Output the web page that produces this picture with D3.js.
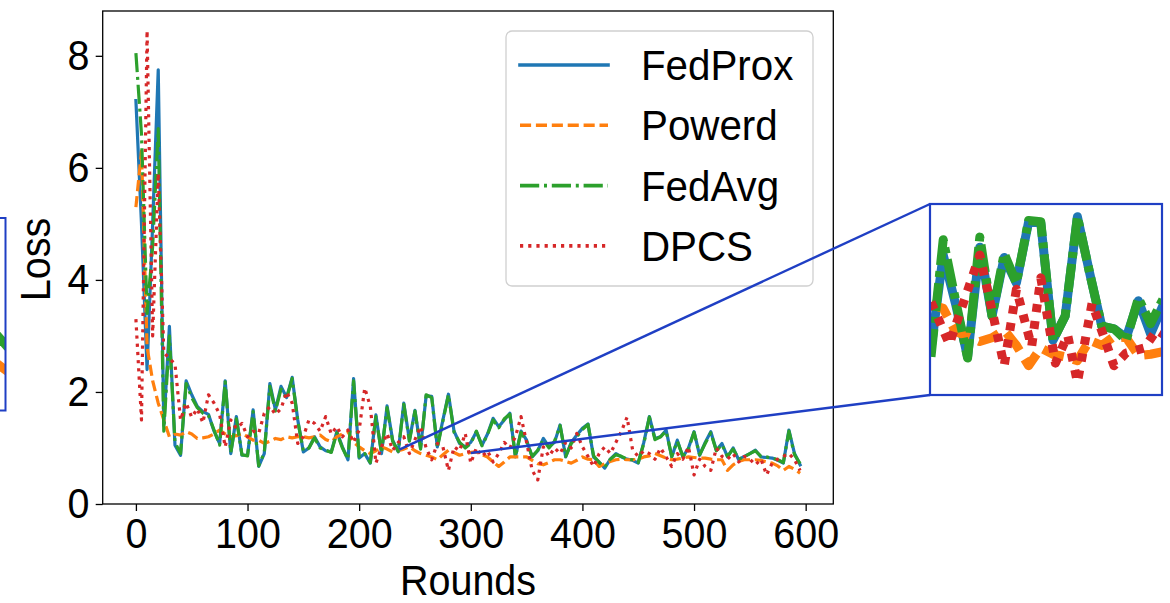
<!DOCTYPE html>
<html>
<head>
<meta charset="utf-8">
<script src="https://cdn.jsdelivr.net/npm/d3@7"></script>
<style>
  html, body { margin: 0; padding: 0; background: #fff; }
  svg { display: block; }
  text { font-family: "Liberation Sans", Arial, sans-serif; fill: #000; }
</style>
</head>
<body>
<svg id="chart" width="1170" height="603"></svg>
<script>
// ── data: loss every 5 rounds (0 … 595) ──
const roundStep = 5;
const seriesNames = ['FedProx', 'Powerd', 'FedAvg', 'DPCS'];

const fedProx = [
  7.2,5.0,2.4,5.0,7.75,1.4,3.17,1.05,0.87,2.2,
  1.95,1.74,1.65,1.6,1.3,1.08,2.2,0.9,1.56,0.87,
  0.87,1.68,0.67,0.9,2.15,1.68,2.1,1.9,2.26,1.5,
  0.93,1.0,1.2,1.02,0.95,0.93,1.29,1.02,0.79,2.24,
  0.82,0.9,0.73,1.59,0.9,1.75,1.14,0.93,1.8,1.14,
  1.67,1.0,1.93,1.92,1.02,1.5,1.96,1.3,1.08,1.02,
  1.1,1.29,1.05,1.25,1.53,1.38,1.5,1.62,0.84,1.3,
  1.14,0.84,0.95,1.17,1.02,1.1,1.41,0.84,1.1,1.23,
  1.35,1.43,0.84,0.75,0.64,0.8,0.9,0.84,0.8,0.78,
  0.73,1.1,1.56,1.17,1.2,1.32,0.84,1.14,0.84,1.0,
  1.29,0.87,1.1,1.29,0.96,1.08,0.84,1.0,0.79,0.85,
  0.9,0.96,0.84,0.83,0.82,0.78,0.73,1.32,0.9,0.7
];
const powerd = [
  5.3,6.3,2.8,2.2,1.8,1.5,1.2,1.25,1.23,1.29,
  1.25,1.17,1.18,1.2,1.25,1.32,1.25,1.2,1.22,1.26,
  1.2,1.14,1.14,1.08,1.12,1.17,1.15,1.2,1.18,1.2,
  1.2,1.18,1.2,1.23,1.15,1.11,1.2,1.25,1.29,1.1,
  1.02,0.95,0.9,0.95,1.02,0.98,0.93,0.95,0.98,1.02,
  0.95,0.9,0.87,0.84,0.79,0.88,0.96,0.92,0.87,0.9,
  0.92,0.93,0.88,0.84,0.75,0.67,0.75,0.84,0.84,0.84,
  0.84,0.78,0.72,0.7,0.74,0.79,0.79,0.76,0.73,0.78,
  0.84,0.8,0.79,0.67,0.72,0.76,0.79,0.8,0.79,0.79,
  0.8,0.84,0.86,0.9,0.86,0.82,0.79,0.8,0.82,0.84,
  0.83,0.82,0.82,0.8,0.79,0.79,0.6,0.7,0.76,0.79,
  0.79,0.79,0.78,0.75,0.73,0.68,0.6,0.67,0.62,0.55
];
const fedAvg = [
  8.05,6.6,3.4,4.6,6.7,1.3,3.0,1.1,0.9,2.15,
  1.9,1.72,1.62,1.58,1.32,1.05,2.18,0.92,1.52,0.88,
  0.86,1.65,0.68,0.92,2.1,1.66,2.05,1.88,2.24,1.48,
  0.95,1.0,1.18,1.0,0.96,0.92,1.27,1.0,0.8,2.2,
  0.84,0.9,0.74,1.56,0.92,1.72,1.12,0.94,1.78,1.12,
  1.66,0.98,1.95,1.9,1.0,1.48,1.95,1.28,1.1,1.0,
  1.08,1.3,1.04,1.24,1.5,1.36,1.52,1.6,0.85,1.28,
  1.12,0.85,0.96,1.15,1.0,1.12,1.4,0.85,1.08,1.2,
  1.33,1.42,0.86,0.74,0.66,0.8,0.88,0.85,0.8,0.79,
  0.74,1.08,1.55,1.15,1.2,1.3,0.85,1.12,0.85,0.98,
  1.28,0.88,1.08,1.27,0.95,1.06,0.85,0.98,0.8,0.84,
  0.9,0.95,0.85,0.84,0.82,0.79,0.74,1.3,0.88,0.72
];
const dpcs = [
  3.3,1.5,8.45,3.0,5.9,2.7,2.6,2.5,1.5,1.8,
  1.55,1.7,1.45,1.95,1.8,1.6,1.02,1.5,1.35,1.44,
  1.2,1.3,1.26,1.62,1.74,1.6,1.7,2.0,1.8,1.08,
  1.2,1.5,1.44,1.3,1.56,1.25,1.38,1.2,1.32,1.1,
  1.32,2.07,1.74,0.73,1.02,1.26,0.96,1.1,1.2,0.9,
  1.15,1.38,1.0,0.79,1.08,1.02,0.6,1.02,0.95,1.26,
  0.73,1.0,0.85,0.95,0.75,0.9,1.1,1.0,1.2,1.56,
  1.1,0.6,0.43,1.02,0.85,1.0,0.9,1.1,1.0,1.26,
  1.02,0.85,0.67,0.9,1.02,0.9,1.1,1.3,1.55,0.96,
  0.85,0.95,0.9,0.8,1.0,0.84,0.67,0.9,0.8,1.02,
  0.52,0.8,0.67,0.6,1.0,0.85,0.8,0.9,0.75,0.85,
  0.8,0.7,0.8,0.52,0.73,0.8,0.85,0.9,0.79,0.6
];

const xTicks = [0, 100, 200, 300, 400, 500, 600];
const yTicks = [0, 2, 4, 6, 8];

// ── zoomed inset (right) ──
const insetT = [0,1,2,3,4,5,6,7,8,9,10,11,12,13,14,15,16,17,18,19];
const insetProx   = [0.86,1.6,1.22,0.8,1.66,1.12,1.58,1.38,1.86,1.85,0.93,1.12,1.9,1.46,1.04,1.02,0.95,1.24,0.98,1.2];
const insetAvg    = [0.80,1.72,1.25,0.79,1.74,1.12,1.61,1.38,1.87,1.86,0.93,1.12,1.90,1.46,1.04,1.02,0.93,1.26,1.06,1.25];
const insetPowerd = [1.21,1.18,1.0,0.96,0.92,0.95,1.01,0.89,0.73,0.87,0.82,0.80,0.77,0.93,0.89,0.96,0.95,0.81,0.82,0.84];
const insetDpcsT  = [0,1.5,4,6,7,8.25,9,10.2,11.2,12,13.2,15,16,17.5,18.5,19.5];
const insetDpcs   = [1.23,0.90,1.60,0.73,1.33,0.88,1.42,0.75,0.97,0.60,1.22,0.73,0.83,0.87,1.01,0.95];

// ── cut-off inset (left edge) ──
const leftT = [0, 1];
const leftAvg = [1.05, 0.9];
const leftPowerd = [0.8, 0.7];

const colors = { FedProx: '#1f77b4', Powerd: '#ff7f0e', FedAvg: '#2ca02c', DPCS: '#d62728' };
const dashes = { FedProx: null, Powerd: '11.1,4.8', FedAvg: '19.2,4.8,3,4.8', DPCS: '3.2,5' };
const insetDashes = { FedProx: null, Powerd: '22,10', FedAvg: '28,6,6,6', DPCS: '8,9' };
const zoomBlue = '#1f3fc4';

// ═══════════════════════════════════════════
//  LAYOUT
// ═══════════════════════════════════════════
const svg = d3.select('#chart');
const L = 102.7, R = 833.3, T = 11, B = 504;
const FS = 42, SQ = 0.94; // font size, horizontal squeeze of the source picture

const x = d3.scaleLinear().domain([-29.75, 624.75]).range([L, R]);
const y = d3.scaleLinear().domain([0, 8.8]).range([B, T]);

svg.append('clipPath').attr('id', 'clip-main')
  .append('rect').attr('x', L).attr('y', T).attr('width', R - L).attr('height', B - T);

function styleLine(path, name, lw, dash) {
  path.attr('fill', 'none')
    .attr('stroke', colors[name])
    .attr('stroke-width', lw)
    .attr('stroke-linejoin', 'round')
    .attr('stroke-linecap', dash ? 'butt' : 'square');
  if (dash) path.attr('stroke-dasharray', dash);
  return path;
}

// ── main lines ──
const gLines = svg.append('g').attr('clip-path', 'url(#clip-main)');
const mainData = { FedProx: fedProx, Powerd: powerd, FedAvg: fedAvg, DPCS: dpcs };
const line = d3.line().x((d, i) => x(i * roundStep)).y(d => y(d));
seriesNames.forEach(name => {
  styleLine(gLines.append('path').datum(mainData[name]).attr('d', line), name, 3.2, dashes[name]);
});

// ── frame + axes ──
svg.append('rect').attr('x', L).attr('y', T).attr('width', R - L).attr('height', B - T)
  .attr('fill', 'none').attr('stroke', '#000').attr('stroke-width', 1.3);

const gx = svg.append('g').attr('transform', `translate(0,${B})`)
  .call(d3.axisBottom(x).tickValues(xTicks).tickSize(7).tickPadding(7).tickFormat(d3.format('d')));
const gy = svg.append('g').attr('transform', `translate(${L},0)`)
  .call(d3.axisLeft(y).tickValues(yTicks).tickSize(7).tickPadding(7).tickFormat(d3.format('d')));
[gx, gy].forEach(g => {
  g.select('.domain').remove();
  g.selectAll('.tick line').attr('stroke', '#000').attr('stroke-width', 1.3);
  g.selectAll('.tick text').attr('font-size', FS).attr('fill', '#000')
    .attr('font-family', '"Liberation Sans", Arial, sans-serif')
    .attr('transform', `scale(${SQ},1)`);
});

function label(s, tx, ty, rot) {
  svg.append('text')
    .attr('transform', `translate(${tx},${ty})${rot ? ' rotate(-90)' : ''} scale(${SQ},1)`)
    .attr('text-anchor', 'middle').attr('font-size', FS).text(s);
}
label('Rounds', (L + R) / 2, 595);
label('Loss', 50, (T + B) / 2 + 2, true);

// ── legend ──
const lg = svg.append('g');
lg.append('rect').attr('x', 506).attr('y', 31).attr('width', 307).attr('height', 255)
  .attr('rx', 6).attr('fill', 'rgba(255,255,255,0.8)').attr('stroke', '#d0d0d0').attr('stroke-width', 1.3);
seriesNames.forEach((name, i) => {
  const cy = 65 + i * 60.3;
  styleLine(lg.append('path').attr('d', `M520,${cy}H608`), name, 3.6, dashes[name]);
  lg.append('text').attr('transform', `translate(641,${cy + 15}) scale(0.96,1)`)
    .attr('font-size', FS).text(name);
});

// ═══════════════════════════════════════════
//  INSETS
// ═══════════════════════════════════════════
const iL = 930, iR = 1162, iT = 204, iB = 395;
const xI = d3.scaleLinear().domain([0, 19]).range([931, 1162.8]);
const yI = d3.scaleLinear().domain([0.5, 2.0]).range([iB, iT]);

svg.append('clipPath').attr('id', 'clip-inset')
  .append('rect').attr('x', iL).attr('y', iT).attr('width', iR - iL).attr('height', iB - iT);
const gI = svg.append('g').attr('clip-path', 'url(#clip-inset)');
const insetSeries = [
  ['FedProx', insetT, insetProx],
  ['Powerd', insetT, insetPowerd],
  ['FedAvg', insetT, insetAvg],
  ['DPCS', insetDpcsT, insetDpcs]
];
insetSeries.forEach(([name, ts, vs]) => {
  const ln = d3.line().x((d, i) => xI(ts[i])).y(d => yI(d));
  styleLine(gI.append('path').datum(vs).attr('d', ln), name, 9, insetDashes[name]);
});
svg.append('rect').attr('x', iL).attr('y', iT).attr('width', iR - iL).attr('height', iB - iT)
  .attr('fill', 'none').attr('stroke', zoomBlue).attr('stroke-width', 2.2);

// left, mostly cut off
const xLft = d3.scaleLinear().domain([0, 1]).range([-12, 5]);
svg.append('clipPath').attr('id', 'clip-left')
  .append('rect').attr('x', -60).attr('y', 218).attr('width', 65.5).attr('height', 192.5);
const gLf = svg.append('g').attr('clip-path', 'url(#clip-left)');
[['Powerd', leftPowerd], ['FedAvg', leftAvg]].forEach(([name, vs]) => {
  const ln = d3.line().x((d, i) => xLft(leftT[i])).y(d => yI(d));
  styleLine(gLf.append('path').datum(vs).attr('d', ln), name, 9, null);
});
svg.append('rect').attr('x', -60).attr('y', 218).attr('width', 65.5).attr('height', 192.5)
  .attr('fill', 'none').attr('stroke', zoomBlue).attr('stroke-width', 2);

// connector lines from the zoomed region to the inset corners
const zoomFrom = [[236, 0.97], [300, 0.91]];
svg.append('line').attr('x1', x(zoomFrom[0][0])).attr('y1', y(zoomFrom[0][1]))
  .attr('x2', iL).attr('y2', iT).attr('stroke', zoomBlue).attr('stroke-width', 2.4);
svg.append('line').attr('x1', x(zoomFrom[1][0])).attr('y1', y(zoomFrom[1][1]))
  .attr('x2', iL).attr('y2', iB).attr('stroke', zoomBlue).attr('stroke-width', 2.4);
</script>
</body>
</html>
